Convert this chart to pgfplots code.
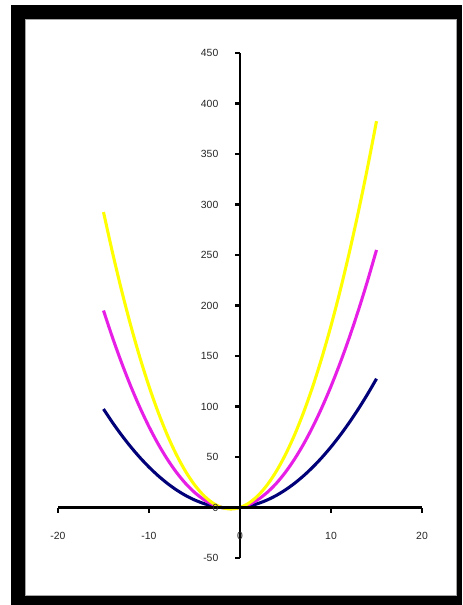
\documentclass[border=0pt]{standalone}
\usepackage{pgfplots}
\pgfplotsset{compat=1.18}
\usepackage{fontspec}
\setmainfont{Liberation Sans}
\definecolor{navyc}{RGB}{0,0,120}
\definecolor{magc}{RGB}{230,30,230}
\definecolor{yelc}{RGB}{255,255,0}
\begin{document}
\begin{tikzpicture}
% frame, 1px = 0.75pt, origin at top left
\path (0,0) rectangle (346.5pt,-453.75pt);
\fill[black] (8.25pt,-3.75pt) rectangle (346.5pt,-453.75pt);
\fill[white] (18.75pt,-14.25pt) rectangle (342pt,-446.25pt);
\draw[gray!70,line width=0.6pt] (18.75pt,-14.25pt) rectangle (342pt,-446.25pt);
\begin{axis}[
  at={(43.5pt,-418.5pt)}, anchor=south west,
  scale only axis, width=273pt, height=378.75pt,
  xmin=-20, xmax=20, ymin=-50, ymax=450,
  axis lines=middle,
  axis on top,
  axis line style={-, line width=1.6pt},
  xtick={-20,-10,0,10,20},
  ytick={-50,0,50,...,450},
  hide obscured x ticks=false, hide obscured y ticks=false,
  tick align=outside,
  major tick length=3.75pt,
  tick style={line width=1.6pt, black},
  tick label style={font=\fontsize{7.8}{9}\selectfont, text=black!85},
  /pgf/number format/assume math mode=true,
  xticklabel style={yshift=-11.5pt},
  yticklabel style={xshift=-9pt},
  clip=false,
]
\addplot[navyc, line width=2.3pt, smooth] coordinates {
(-15,97.5) (-14,84) (-13,71.5) (-12,60) (-11,49.5) (-10,40) (-9,31.5) (-8,24)
(-7,17.5) (-6,12) (-5,7.5) (-4,4) (-3,1.5) (-2,0) (-1,-0.5) (0,0) (1,1.5) (2,4)
(3,7.5) (4,12) (5,17.5) (6,24) (7,31.5) (8,40) (9,49.5) (10,60) (11,71.5)
(12,84) (13,97.5) (14,112) (15,127.5)
};
\addplot[magc, line width=2.3pt, smooth] coordinates {
(-15,195) (-14,168) (-13,143) (-12,120) (-11,99) (-10,80) (-9,63) (-8,48)
(-7,35) (-6,24) (-5,15) (-4,8) (-3,3) (-2,0) (-1,-1) (0,0) (1,3) (2,8)
(3,15) (4,24) (5,35) (6,48) (7,63) (8,80) (9,99) (10,120) (11,143)
(12,168) (13,195) (14,224) (15,255)
};
\addplot[yelc, line width=2.3pt, smooth] coordinates {
(-15,292.5) (-14,252) (-13,214.5) (-12,180) (-11,148.5) (-10,120) (-9,94.5) (-8,72)
(-7,52.5) (-6,36) (-5,22.5) (-4,12) (-3,4.5) (-2,0) (-1,-1.5) (0,0) (1,4.5) (2,12)
(3,22.5) (4,36) (5,52.5) (6,72) (7,94.5) (8,120) (9,148.5) (10,180) (11,214.5)
(12,252) (13,292.5) (14,336) (15,382.5)
};
\end{axis}
\end{tikzpicture}
\end{document}
